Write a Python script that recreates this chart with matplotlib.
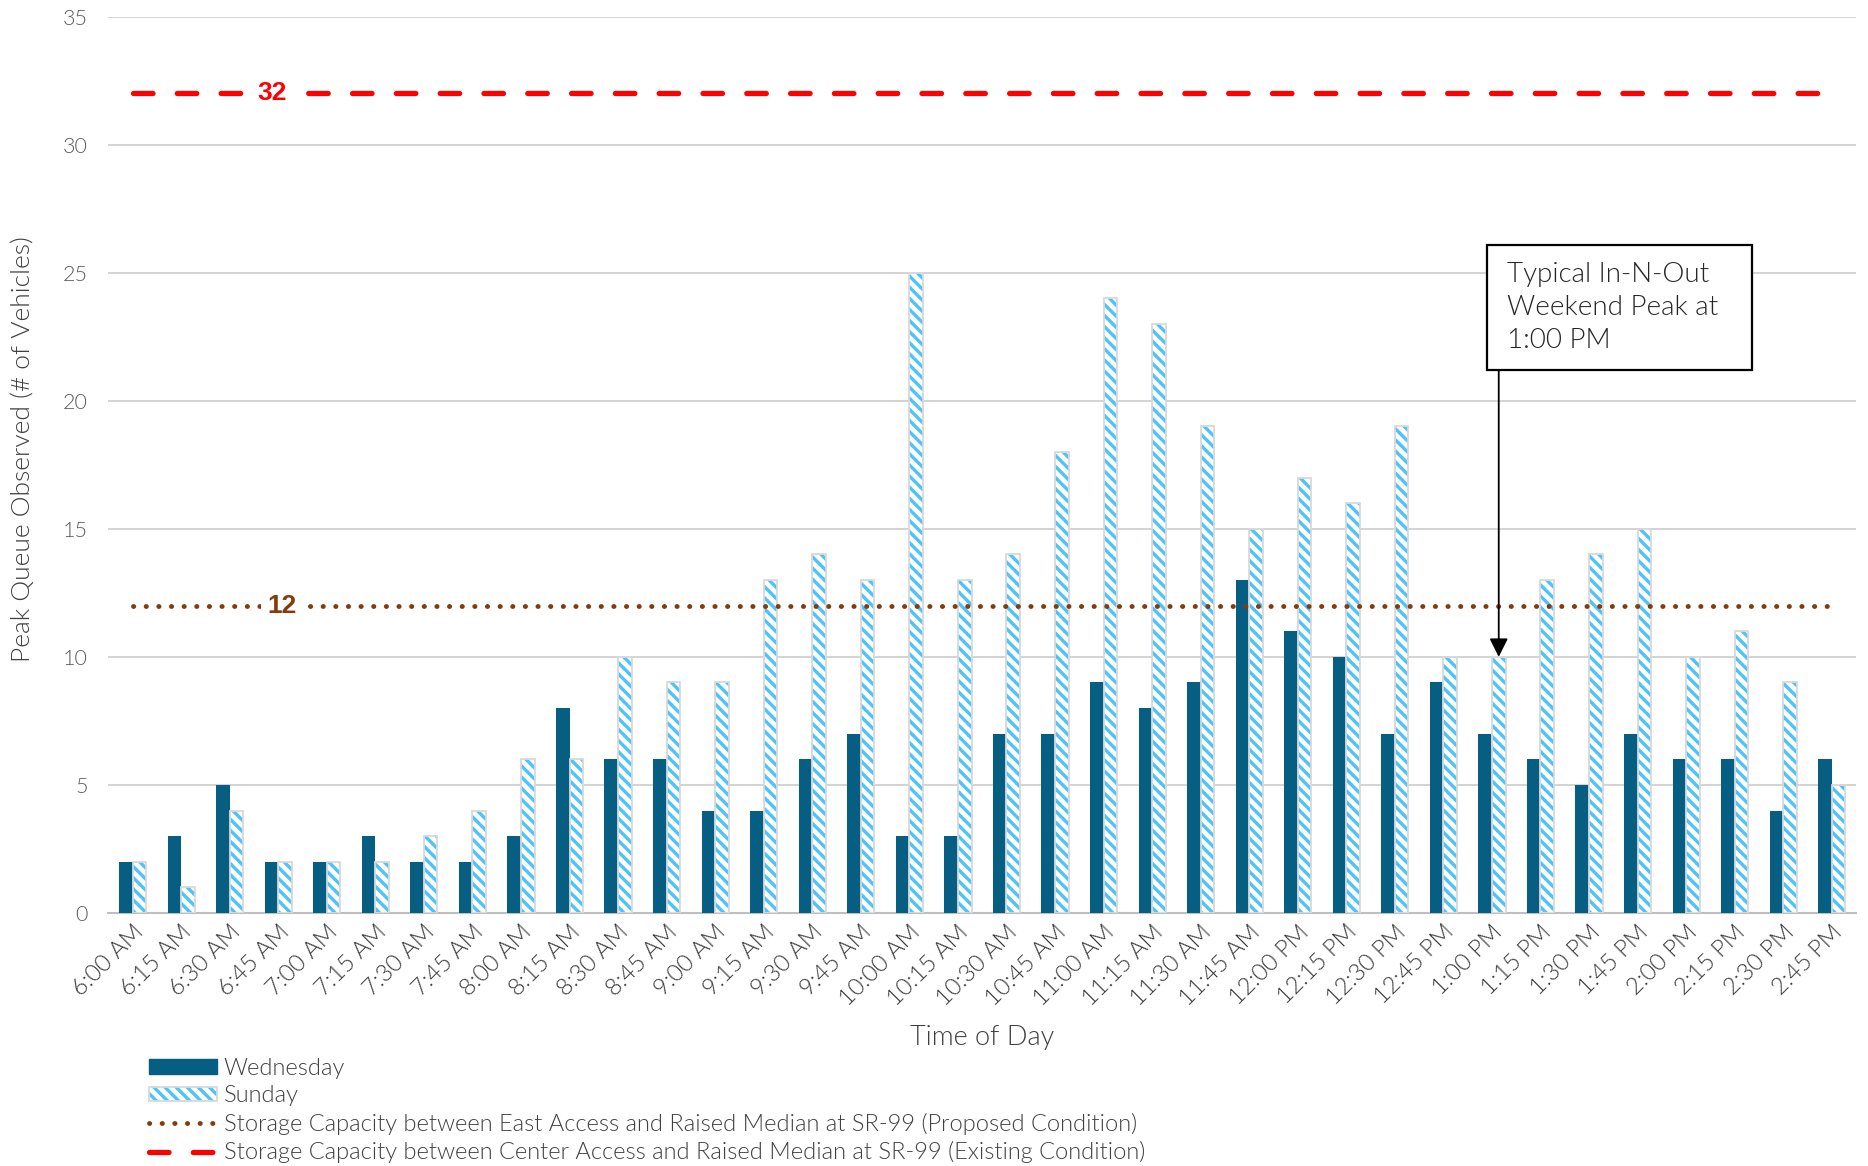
import numpy as np
import matplotlib
matplotlib.use("Agg")
import matplotlib.pyplot as plt
from matplotlib.lines import Line2D
from matplotlib.patches import Rectangle

plt.rcParams['font.family'] = ['Lato', 'DejaVu Sans']
plt.rcParams['hatch.linewidth'] = 2.4
LIGHT = 300

# data
times = ['6:00 AM', '6:15 AM', '6:30 AM', '6:45 AM', '7:00 AM', '7:15 AM', '7:30 AM', '7:45 AM',
         '8:00 AM', '8:15 AM', '8:30 AM', '8:45 AM', '9:00 AM', '9:15 AM', '9:30 AM', '9:45 AM',
         '10:00 AM', '10:15 AM', '10:30 AM', '10:45 AM', '11:00 AM', '11:15 AM', '11:30 AM', '11:45 AM',
         '12:00 PM', '12:15 PM', '12:30 PM', '12:45 PM', '1:00 PM', '1:15 PM', '1:30 PM', '1:45 PM',
         '2:00 PM', '2:15 PM', '2:30 PM', '2:45 PM']
wednesday = [2, 3, 5, 2, 2, 3, 2, 2, 3, 8, 6, 6, 4, 4, 6, 7, 3, 3, 7, 7, 9, 8, 9, 13,
             11, 10, 7, 9, 7, 6, 5, 7, 6, 6, 4, 6]
sunday = [2, 1, 4, 2, 2, 2, 3, 4, 6, 6, 10, 9, 9, 13, 14, 13, 25, 13, 14, 18, 24, 23, 19, 15,
          17, 16, 19, 10, 10, 13, 14, 15, 10, 11, 9, 5]
cap_proposed = 12
cap_existing = 32
peak_idx = times.index('1:00 PM')

wed_color = '#065f82'
sun_hatch = '#4dc3f7'
sun_edge = '#d9d9d9'
red = '#ff0000'
brown = '#843c0c'
dot_style = (0, (0.05, 2.55))
dash_style = (0, (3.7, 4.6))

x = np.arange(len(times))
w = 0.28

fig = plt.figure(figsize=(18.68, 11.66), dpi=100)
ax = fig.add_axes([0.058, 0.217, 0.9356, 0.7687])

ax.bar(x - w / 2, wednesday, w, color=wed_color, zorder=3)
sun_fill = ax.bar(x + w / 2, sunday, w, facecolor='white', edgecolor=sun_hatch,
                  hatch='\\\\\\', linewidth=0, zorder=3)
sun_line = ax.bar(x + w / 2, sunday, w, fill=False, edgecolor=sun_edge,
                  linewidth=1.3, zorder=4)

# capacity lines
ax.plot([x[0], x[-1]], [cap_proposed, cap_proposed], color=brown, lw=3.5,
        linestyle=dot_style, dash_capstyle='round', zorder=5)
ax.plot([x[0], x[-1]], [cap_existing, cap_existing], color=red, lw=3.8,
        linestyle=dash_style, dash_capstyle='round', zorder=5)
ax.text(3.08, cap_proposed, str(cap_proposed), color=brown, fontsize=19, fontweight='bold',
        family='Liberation Sans', ha='center', va='center', zorder=6,
        bbox=dict(fc='white', ec='none', pad=5))
ax.text(2.88, cap_existing, str(cap_existing), color=red, fontsize=19, fontweight='bold',
        family='Liberation Sans', ha='center', va='center', zorder=6,
        bbox=dict(fc='white', ec='none', pad=5))

# callout
ax.add_patch(Rectangle((27.89, 21.2), 5.46, 4.9, fc='white', ec='black', lw=1.6, zorder=7))
ax.text(28.3, 25.41, 'Typical In-N-Out\nWeekend Peak at\n1:00 PM', fontsize=20,
        fontweight=LIGHT, color='#262626', ha='left', va='top', linespacing=1.4, zorder=8)
ax.annotate('', xy=(peak_idx + w / 2, sunday[peak_idx]), xytext=(peak_idx + w / 2, 21.2),
            arrowprops=dict(arrowstyle='-|>', mutation_scale=28, lw=1.3, color='black',
                            shrinkA=0, shrinkB=0), zorder=8)

ax.set_xlim(-0.5, len(times) - 0.5)
ax.set_ylim(0, 35)
ax.set_yticks(range(0, 36, 5))
ax.yaxis.grid(True, color='#d0d0d0', lw=1.3, zorder=0)
ax.set_axisbelow(True)
for s in ['top', 'right', 'left']:
    ax.spines[s].set_visible(False)
ax.spines['bottom'].set_color('#bfbfbf')
ax.spines['bottom'].set_linewidth(1.5)
ax.tick_params(axis='y', length=0, pad=15, labelsize=15.5, labelcolor='#595959')
ax.tick_params(axis='x', length=0, pad=6, labelsize=17, labelcolor='#3a3a3a')
for t in ax.get_yticklabels():
    t.set_fontweight(LIGHT)
ax.set_xticks(x)
ax.set_xticklabels(times, rotation=45, ha='right', rotation_mode='anchor', fontweight=LIGHT)

ax.set_ylabel('Peak Queue Observed (# of Vehicles)', fontsize=19, fontweight=LIGHT,
              color='#404040')
ax.yaxis.set_label_coords(-0.042, 0.518)
ax.set_xlabel('Time of Day', fontsize=19.5, fontweight=LIGHT, color='#404040')
ax.xaxis.set_label_coords(0.5, -0.1245)

handles = [
    Rectangle((0, 0), 1, 1, color=wed_color),
    (sun_fill[0], sun_line[0]),
    Line2D([], [], color=brown, lw=3.5, linestyle=dot_style, dash_capstyle='round'),
    Line2D([], [], color=red, lw=3.8, linestyle=dash_style, dash_capstyle='round'),
]
labels = ['Wednesday', 'Sunday',
          'Storage Capacity between East Access and Raised Median at SR-99 (Proposed Condition)',
          'Storage Capacity between Center Access and Raised Median at SR-99 (Existing Condition)']
leg = fig.legend(handles, labels, loc='upper left', bbox_to_anchor=(0.0797, 0.0927),
                 frameon=False, fontsize=17, handlelength=2.87, handleheight=0.55,
                 labelspacing=0.27, borderpad=0, borderaxespad=0, handletextpad=0.3)
for t in leg.get_texts():
    t.set_color('#404040')
    t.set_fontweight(LIGHT)

fig.savefig('out.png', dpi=100)
